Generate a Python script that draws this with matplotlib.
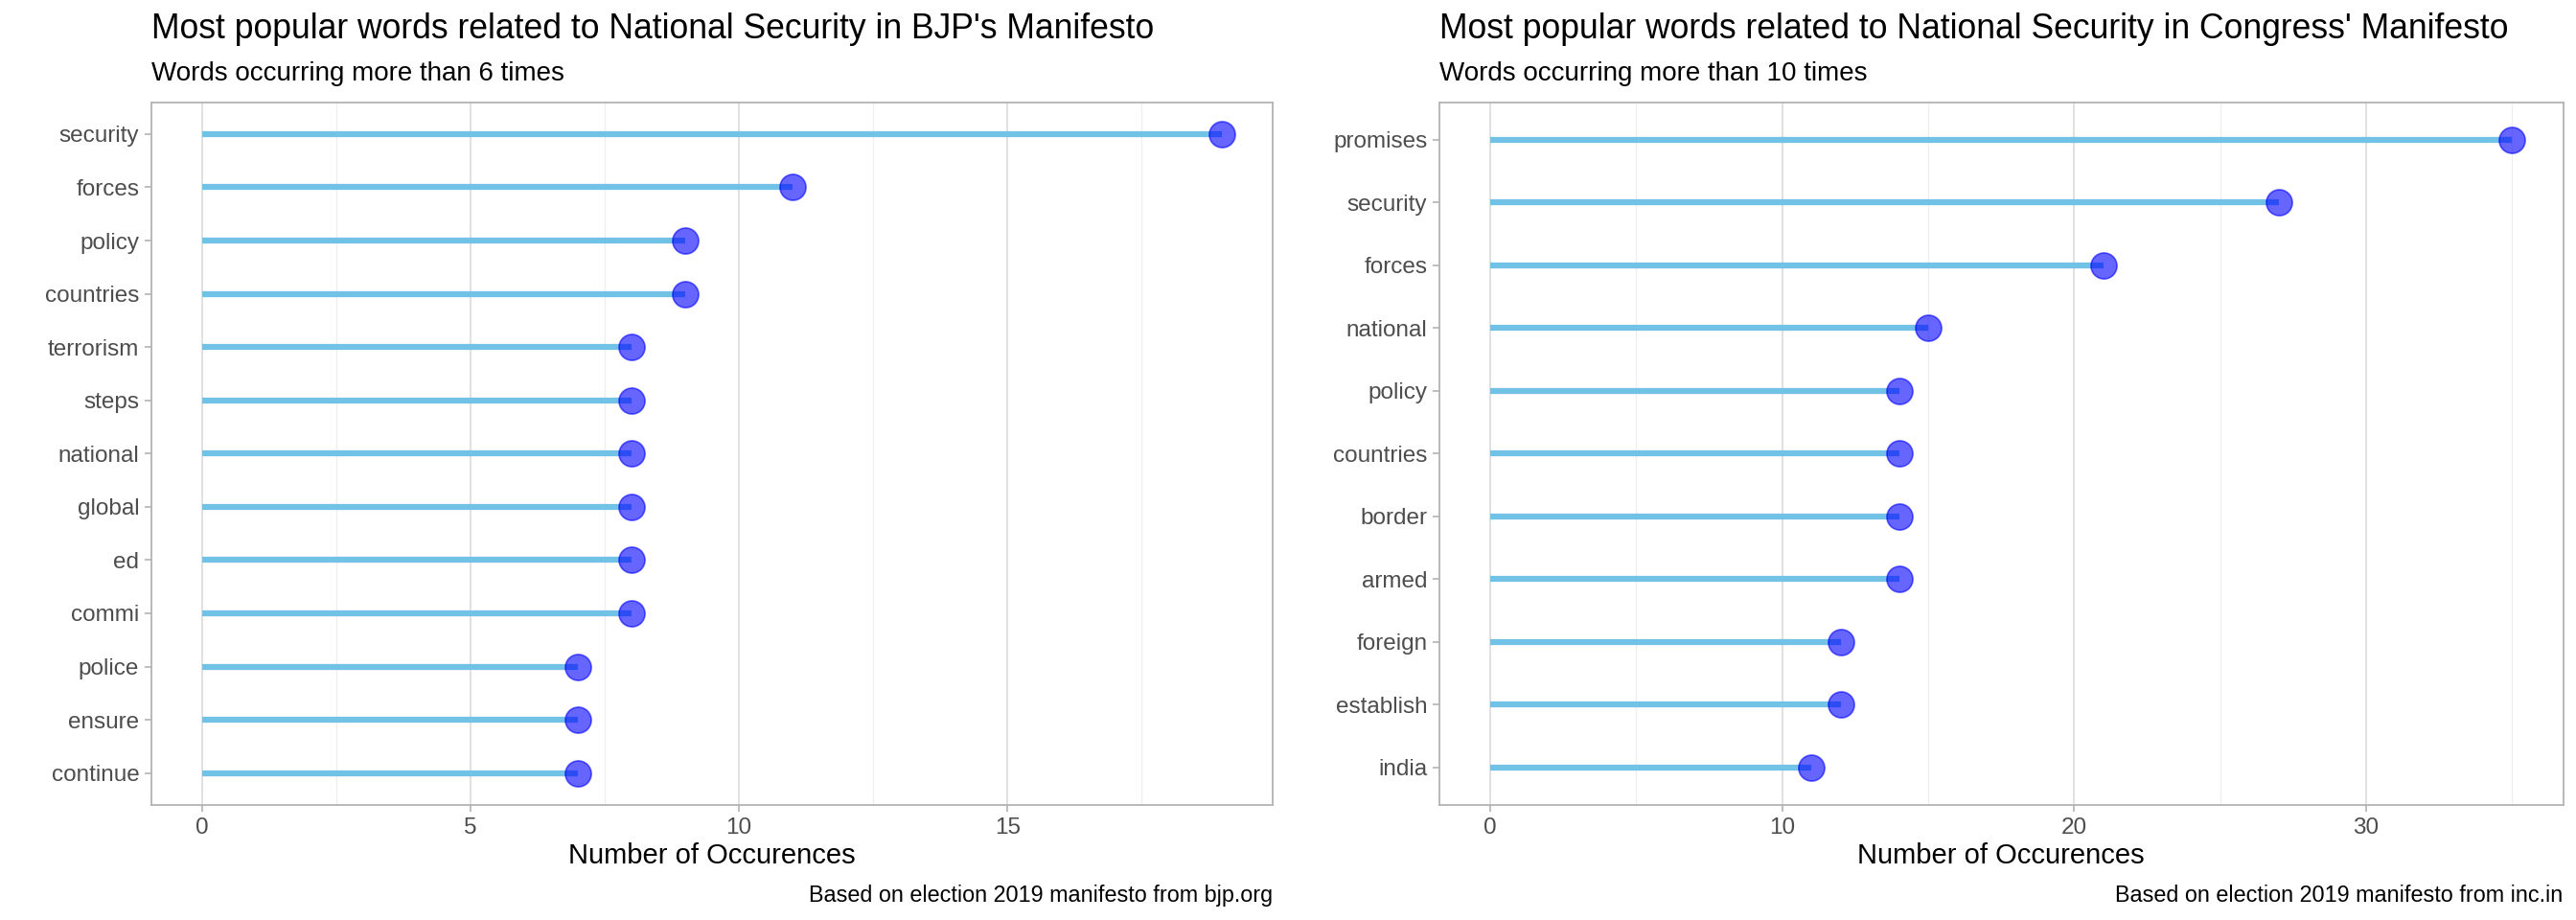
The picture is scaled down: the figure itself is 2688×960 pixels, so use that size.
import matplotlib.pyplot as plt
from matplotlib.ticker import MultipleLocator

plt.rcParams['font.family'] = ['Liberation Sans', 'DejaVu Sans']

# BJP manifesto
bjp_words = ['security', 'forces', 'policy', 'countries', 'terrorism', 'steps',
             'national', 'global', 'ed', 'commi', 'police', 'ensure', 'continue']
bjp_counts = [19, 11, 9, 9, 8, 8, 8, 8, 8, 8, 7, 7, 7]

# Congress manifesto
inc_words = ['promises', 'security', 'forces', 'national', 'policy', 'countries',
             'border', 'armed', 'foreign', 'establish', 'india']
inc_counts = [35, 27, 21, 15, 14, 14, 14, 14, 12, 12, 11]

titles = ["Most popular words related to National Security in BJP's Manifesto",
          "Most popular words related to National Security in Congress' Manifesto"]
subtitles = ['Words occurring more than 6 times', 'Words occurring more than 10 times']
captions = ['Based on election 2019 manifesto from bjp.org',
            'Based on election 2019 manifesto from inc.in']

fig = plt.figure(figsize=(26.88, 9.6), dpi=100)
boxes = [[0.0587, 0.125, 0.4355, 0.764], [0.5587, 0.125, 0.4363, 0.764]]
panels = [(bjp_words, bjp_counts, 5), (inc_words, inc_counts, 10)]

for i, (words, counts, step) in enumerate(panels):
    ax = fig.add_axes(boxes[i])
    n = len(words)
    y = list(range(n, 0, -1))
    ax.hlines(y, 0, counts, color='#72c1e6', lw=4.5, zorder=2)
    ax.scatter(counts, y, s=380, color='blue', alpha=0.6, edgecolors='blue',
               linewidths=1.2, zorder=3)
    top = max(counts)
    ax.set_xlim(-0.05 * top, top * 1.05)
    ax.set_ylim(0.4, n + 0.6)
    ax.set_yticks(y)
    ax.set_yticklabels(words)
    ax.xaxis.set_major_locator(MultipleLocator(step))
    ax.xaxis.set_minor_locator(MultipleLocator(step / 2))
    ax.grid(axis='x', which='major', color='#dedede', lw=1.3, zorder=0)
    ax.grid(axis='x', which='minor', color='#efefef', lw=0.9, zorder=0)
    ax.set_axisbelow(True)
    for s in ax.spines.values():
        s.set_color('#b3b3b3')
        s.set_linewidth(1.3)
    ax.tick_params(axis='both', which='major', colors='#b3b3b3', labelcolor='#4d4d4d',
                   labelsize=17.5, length=5, width=1.2, pad=4)
    ax.tick_params(axis='x', which='minor', length=0)
    ax.set_xlabel('Number of Occurences', fontsize=21, labelpad=3)
    l = boxes[i][0]
    r = l + boxes[i][2]
    fig.text(l, 0.968, titles[i], fontsize=25.6, ha='left', va='center')
    fig.text(l, 0.92, subtitles[i], fontsize=20, ha='left', va='center')
    fig.text(r, 0.027, captions[i], fontsize=16.8, ha='right', va='center')

fig.savefig('out.png', dpi=100)
